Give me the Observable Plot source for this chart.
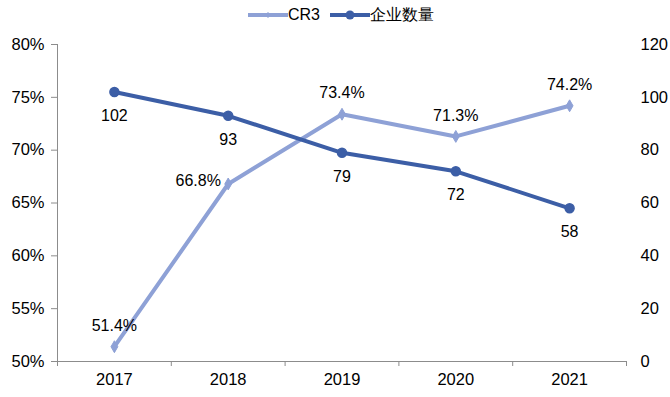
<!DOCTYPE html>
<html>
<head>
<meta charset="utf-8">
<script src="https://cdn.jsdelivr.net/npm/d3@7"></script>
<script src="https://cdn.jsdelivr.net/npm/@observablehq/plot@0.6"></script>
<style>
  html, body { margin: 0; padding: 0; background: #fff; }
  body { width: 670px; height: 397px; overflow: hidden; font-family: "Liberation Sans", Arial, sans-serif; }
  #legend { height: 30px; display: flex; justify-content: center; align-items: center; font-size: 16px; color: #000; padding-left: 12px; box-sizing: border-box; }
  #legend .item { display: flex; align-items: center; margin: 0 5px; }
  #legend svg { margin-right: 0px; }
</style>
</head>
<body>
<div id="legend"></div>
<div id="chart"></div>
<script>
const years = [2017, 2018, 2019, 2020, 2021];
const cr3 = [51.4, 66.8, 73.4, 71.3, 74.2];
const firms = [102, 93, 79, 72, 58];
const leftTicks = [50, 55, 60, 65, 70, 75, 80];
const rightTicks = [0, 20, 40, 60, 80, 100, 120];
const seriesNames = ["CR3", "企业数量"];

const cLight = "#8ea1d6";
const cDark = "#3c5ea6";

// map firm count (0-120) onto percent axis (50-80)
const toPct = v => 50 + v / 120 * 30;
const fromPct = p => Math.round((p - 50) * 4);

const dataCR3 = years.map((y, i) => ({year: y, v: cr3[i]}));
const dataFirm = years.map((y, i) => ({year: y, n: firms[i], v: toPct(firms[i])}));
const bounds = [years[0] - 0.5, ...years.map(y => y + 0.5)];

const font = "\"Liberation Sans\", Arial, sans-serif";
const axisFs = 16.5;
const labelFs = 16;

const chart = Plot.plot({
  width: 670,
  height: 367,
  marginTop: 14,
  marginBottom: 36,
  marginLeft: 57,
  marginRight: 44,
  style: {fontFamily: font, fontSize: "16px", color: "#000", background: "#fff"},
  x: {domain: [bounds[0], bounds[bounds.length - 1]], label: null},
  y: {domain: [50, 80], label: null},
  marks: [
    Plot.ruleY([50], {stroke: "#8c8c8c", strokeWidth: 1}),
    Plot.ruleX([bounds[0]], {stroke: "#8c8c8c", strokeWidth: 1}),
    Plot.axisX({ticks: bounds, tickFormat: () => "", tickSize: 5, stroke: "#8c8c8c", label: null}),
    Plot.axisX({ticks: years, tickFormat: d => String(d), tickSize: 0, tickPadding: 12, label: null, fontSize: axisFs, fill: "#000"}),
    Plot.axisY({ticks: leftTicks, tickFormat: d => d + "%", tickSize: 6, tickPadding: 7, stroke: "#8c8c8c", label: null, fontSize: axisFs, fill: "#000"}),
    Plot.axisY({anchor: "right", ticks: rightTicks.map(toPct), tickFormat: d => String(fromPct(d)), tickSize: 0, tickPadding: 14, label: null, fontSize: axisFs, fill: "#000"}),
    Plot.line(dataCR3, {x: "year", y: "v", stroke: cLight, strokeWidth: 4}),
    Plot.dot(dataCR3, {x: "year", y: "v", symbol: "diamond", r: 3.6, fill: cLight, stroke: cLight, strokeWidth: 1}),
    Plot.line(dataFirm, {x: "year", y: "v", stroke: cDark, strokeWidth: 4}),
    Plot.dot(dataFirm, {x: "year", y: "v", r: 4.5, fill: cDark, stroke: cDark}),
    Plot.text(dataCR3.filter(d => d.year !== 2018), {x: "year", y: "v", text: d => d.v.toFixed(1) + "%", dy: -21, fontSize: labelFs, fill: "#000"}),
    Plot.text(dataCR3.filter(d => d.year === 2018), {x: "year", y: "v", text: d => d.v.toFixed(1) + "%", dx: -30, dy: -3, fontSize: labelFs, fill: "#000"}),
    Plot.text(dataFirm, {x: "year", y: "v", text: d => String(d.n), dy: 24, fontSize: labelFs, fill: "#000"})
  ]
});
document.getElementById("chart").appendChild(chart);

// legend
const legend = document.getElementById("legend");
const mk = (name, color, shape) => {
  const item = document.createElement("div");
  item.className = "item";
  const marker = shape === "diamond"
    ? `<path d="M20,4 L23,7 L20,10 L17,7 Z" fill="${color}"/>`
    : `<circle cx="20" cy="7" r="4.5" fill="${color}"/>`;
  item.innerHTML = `<svg width="40" height="14"><line x1="0" y1="7" x2="40" y2="7" stroke="${color}" stroke-width="4"/>${marker}</svg><span>${name}</span>`;
  legend.appendChild(item);
};
mk(seriesNames[0], cLight, "diamond");
mk(seriesNames[1], cDark, "circle");
</script>
</body>
</html>
